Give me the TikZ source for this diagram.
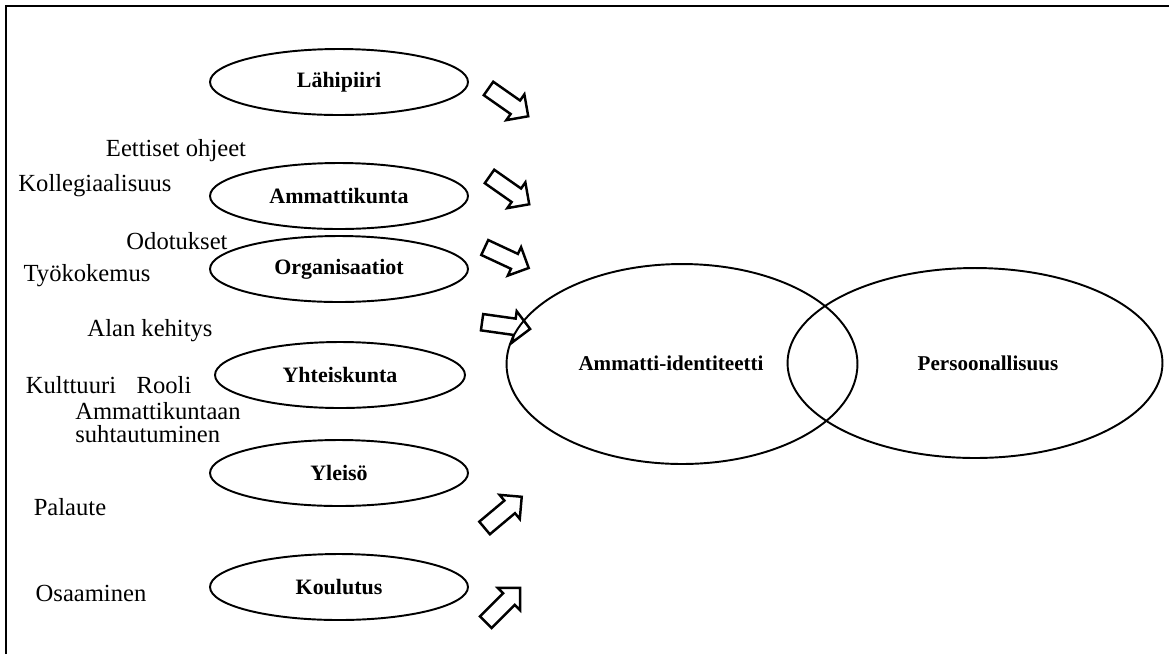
\documentclass[tikz,border=0pt]{standalone}
\usepackage{fontspec}
\setmainfont{Liberation Serif}
\usepackage{tikz}
\usetikzlibrary{shapes.geometric, shapes.arrows, positioning}

\begin{document}
\begin{tikzpicture}[
    x=0.02cm, y=-0.02cm,
    source/.style={ellipse, draw=black, line width=1.1pt, minimum width=5.16cm, minimum height=1.32cm, inner sep=0pt, font=\fontsize{12.5}{14}\selectfont\bfseries},
    core/.style={ellipse, draw=black, line width=1.1pt, inner sep=0pt},
    corelabel/.style={inner sep=0pt, font=\fontsize{12}{14}\selectfont\bfseries},
    factor/.style={font=\fontsize{14}{13}\selectfont, inner sep=0pt, align=left},
    flow/.style={single arrow, draw=black, line width=1.4pt, minimum height=0.97cm, inner sep=0.14cm, single arrow head extend=0.15cm, single arrow head indent=0pt}
]
\useasboundingbox (0,0) rectangle (1169,654);

% frame
\draw[line width=1.4pt] (6,654) -- (6,6) -- (1169,6);

% sources
\node[source] (lahi) at (339,82) {Lähipiiri};
\node[source] (ammk) at (339,196) {Ammattikunta};
\node[source] (org) at (339,269) {Organisaatiot};
\node[source, minimum width=5.0cm] (yht) at (340,375) {Yhteiskunta};
\node[source] (yle) at (339,473) {Yleisö};
\node[source] (kou) at (339,587) {Koulutus};

% identity
\node[core, minimum width=7.02cm, minimum height=4.0cm] (ident) at (682,364) {};
\node[corelabel] (identlbl) at (671,363) {Ammatti-identiteetti};
\node[core, minimum width=7.5cm, minimum height=3.8cm] (pers) at (975,363) {};
\node[corelabel] (perslbl) at (988,363) {Persoonallisuus};

% factors
\node[factor] (eett) at (176,151) {Eettiset ohjeet};
\node[factor] (koll) at (95,186) {Kollegiaalisuus};
\node[factor] (odot) at (177,241) {Odotukset};
\node[factor] (tyok) at (87,276) {Työkokemus};
\node[factor] (alan) at (150,331) {Alan kehitys};
\node[factor] (kult) at (71,385) {Kulttuuri};
\node[factor] (rool) at (164,385) {Rooli};
\node[factor, anchor=north west] (suht) at (75,402) {Ammattikuntaan\\suhtautuminen};
\node[factor] (pala) at (70,507) {Palaute};
\node[factor] (osaa) at (91,593) {Osaaminen};

% arrows
\node[flow, rotate=-35] (a1) at (505,100) {};
\node[flow, rotate=-35] (a2) at (506,188) {};
\node[flow, rotate=-25] (a3) at (503,256) {};
\node[flow, rotate=-8] (a4) at (502,325) {};
\node[flow, rotate=40] (a5) at (500,515) {};
\node[flow, rotate=45] (a6) at (500,608) {};

\end{tikzpicture}
\end{document}
